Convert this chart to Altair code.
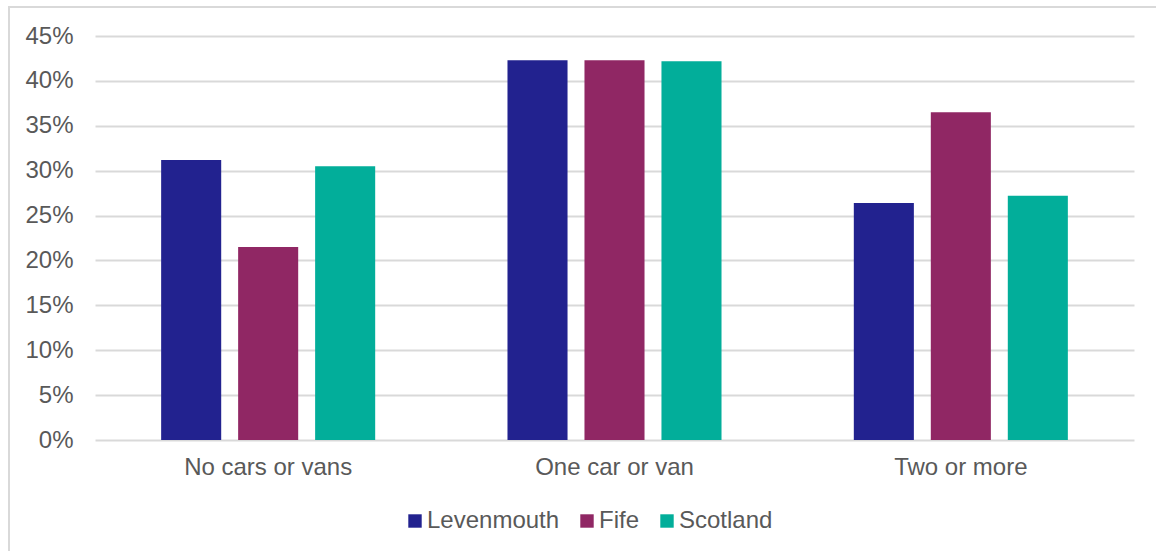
import altair as alt
import pandas as pd

categories = ["No cars or vans", "One car or van", "Two or more"]
series = ["Levenmouth", "Fife", "Scotland"]
levenmouth = [31.2, 42.3, 26.4]
fife = [21.5, 42.3, 36.5]
scotland = [30.5, 42.2, 27.2]
colors = ["#22228f", "#902764", "#02ae9a"]

rows = []
for name, vals in zip(series, [levenmouth, fife, scotland]):
    for c, v in zip(categories, vals):
        rows.append({"category": c, "series": name, "value": v / 100})
df = pd.DataFrame(rows)

W, H = 1039, 404
font = "Liberation Sans"
gray = "#595959"
fs = 24

bars = alt.Chart(df).mark_bar().encode(
    x=alt.X("category:N", sort=categories, title=None,
            scale=alt.Scale(paddingInner=0.382, paddingOuter=0.191),
            axis=alt.Axis(labelAngle=0, ticks=False, domain=False, labelPadding=15,
                          labelFontSize=fs, labelColor=gray, labelFont=font)),
    xOffset=alt.XOffset("series:N", sort=series,
                        scale=alt.Scale(paddingInner=0.22, paddingOuter=0)),
    y=alt.Y("value:Q", title=None,
            scale=alt.Scale(domain=[0, 0.45], nice=False),
            axis=alt.Axis(format=".0%", values=[i * 0.05 for i in range(10)],
                          ticks=False, domain=False, labelPadding=22,
                          labelFontSize=fs, labelColor=gray, labelFont=font,
                          grid=True, gridColor="#d9d9d9", gridWidth=2)),
    color=alt.Color("series:N", sort=series, title=None,
                    scale=alt.Scale(domain=series, range=colors),
                    legend=alt.Legend(orient="none", legendX=308, legendY=473,
                                      direction="horizontal", symbolType="square",
                                      symbolSize=180, symbolStrokeWidth=0,
                                      labelFontSize=fs, labelColor=gray, labelFont=font,
                                      columnPadding=15, labelOffset=0)),
)

border = alt.Chart(pd.DataFrame({"a": [0]})).mark_rect(
    fill=None, stroke="#d9d9d9", strokeWidth=2
).encode(x=alt.value(-86), x2=alt.value(W + 100), y=alt.value(-29), y2=alt.value(H + 150))

chart = alt.layer(border, bars).properties(
    width=W, height=H,
    autosize=alt.AutoSizeParams(type="none"),
    padding={"left": 95, "top": 36, "right": 22, "bottom": 111},
).configure(background="white").configure_view(stroke=None)

chart.save("out.html", embed_options={"renderer": "svg", "actions": False})
